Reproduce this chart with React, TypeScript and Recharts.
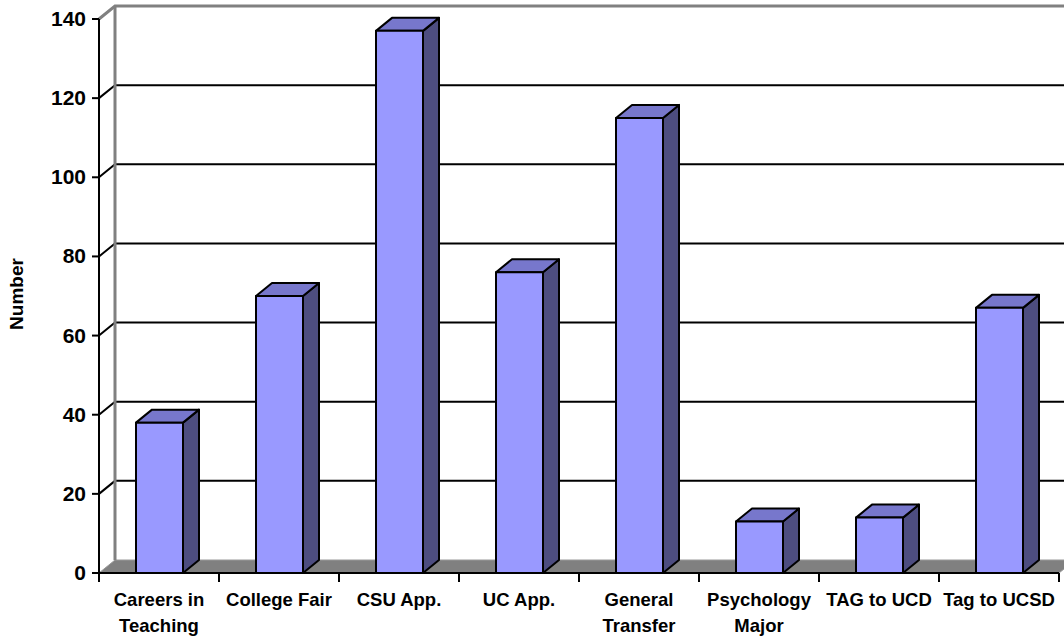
import React from 'react';
import { BarChart, Bar, XAxis, YAxis, CartesianGrid } from 'recharts';

document.body.style.margin = '0';

const categories = [
  'Careers in Teaching',
  'College Fair',
  'CSU App.',
  'UC App.',
  'General Transfer',
  'Psychology Major',
  'TAG to UCD',
  'Tag to UCSD',
];
const counts = [38, 70, 137, 76, 115, 13, 14, 67];
const yTicks = [0, 20, 40, 60, 80, 100, 120, 140];

// labels that break onto two lines under the axis
const tickLines: Record<string, string[]> = {
  'Careers in Teaching': ['Careers in', 'Teaching'],
  'General Transfer': ['General', 'Transfer'],
  'Psychology Major': ['Psychology', 'Major'],
};

const data = categories.map((name, i) => ({ name, value: counts[i] }));

const W = 1064;
const H = 637;
const M = { top: 19, right: 5, bottom: 14, left: 39 };
const Y_AXIS_W = 60;
const X_AXIS_H = 50;
const PLOT_LEFT = M.left + Y_AXIS_W;
const PLOT_BOTTOM = H - M.bottom - X_AXIS_H;
const PLOT_W = W - PLOT_LEFT - M.right;
const HALF_BAND = PLOT_W / categories.length / 2;

// depth of the 3d effect
const DX = 16;
const DY = 13;

const FONT = 'Liberation Sans, Arial, sans-serif';

const Bar3D = (props: any) => {
  const { x, y, width, height } = props;
  if (height == null || width == null) return null;
  const top = `${x},${y} ${x + DX},${y - DY} ${x + width + DX},${y - DY} ${x + width},${y}`;
  const side = `${x + width},${y} ${x + width + DX},${y - DY} ${x + width + DX},${y + height - DY} ${x + width},${y + height}`;
  return (
    <g stroke="#000" strokeWidth={2} strokeLinejoin="round">
      <polygon points={side} fill="#4D4D80" />
      <polygon points={top} fill="#7777CC" />
      <rect x={x} y={y} width={width} height={height} fill="#9999FF" />
    </g>
  );
};

const WallLine = (props: any) => {
  const { x1, y1, x2 } = props;
  if (Math.abs(y1 - PLOT_BOTTOM) < 1) {
    // floor
    return (
      <polygon
        points={`${x1},${y1} ${x1 + DX},${y1 - DY} ${x2 + DX},${y1 - DY} ${x2},${y1}`}
        fill="#808080"
        stroke="#999"
        strokeWidth={1}
      />
    );
  }
  if (Math.abs(y1 - M.top) < 1) {
    // top edge of the walls plus the back corner
    return (
      <g stroke="#808080" strokeWidth={3} fill="none">
        <polyline points={`${x1},${y1} ${x1 + DX},${y1 - DY} ${x2 + DX},${y1 - DY}`} />
        <line x1={x1 + DX} y1={y1 - DY} x2={x1 + DX} y2={PLOT_BOTTOM - DY} />
      </g>
    );
  }
  return (
    <polyline
      points={`${x1},${y1} ${x1 + DX},${y1 - DY} ${x2 + DX},${y1 - DY}`}
      stroke="#000"
      strokeWidth={2}
      fill="none"
    />
  );
};

const XTick = (props: any) => {
  const { x, y, payload, index } = props;
  const lines = tickLines[payload.value] ?? [payload.value];
  return (
    <g>
      <line x1={x - HALF_BAND} y1={y} x2={x - HALF_BAND} y2={y + 9} stroke="#000" strokeWidth={2} />
      {index === categories.length - 1 && (
        <line x1={x + HALF_BAND} y1={y} x2={x + HALF_BAND} y2={y + 9} stroke="#000" strokeWidth={2} />
      )}
      <text
        x={x}
        y={y}
        textAnchor="middle"
        fontFamily={FONT}
        fontWeight="bold"
        fontSize={18.5}
        fill="#000"
      >
        {lines.map((l: string, i: number) => (
          <tspan key={i} x={x} dy={i === 0 ? 33 : 26}>
            {l}
          </tspan>
        ))}
      </text>
    </g>
  );
};

const YTick = (props: any) => {
  const { x, y, payload } = props;
  return (
    <text
      x={x}
      y={y}
      dy={7}
      textAnchor="end"
      fontFamily={FONT}
      fontWeight="bold"
      fontSize={21}
      fill="#000"
    >
      {payload.value}
    </text>
  );
};

const YLabel = () => (
  <text
    x={23}
    y={294}
    transform="rotate(-90 23 294)"
    textAnchor="middle"
    fontFamily={FONT}
    fontWeight="bold"
    fontSize={19}
    fill="#000"
  >
    Number
  </text>
);

export default function App() {
  return (
    <BarChart width={W} height={H} data={data} margin={M} barSize={47}>
      <CartesianGrid vertical={false} horizontal={WallLine} />
      <XAxis
        dataKey="name"
        height={X_AXIS_H}
        interval={0}
        axisLine={{ stroke: '#000', strokeWidth: 2 }}
        tickLine={false}
        tickSize={0}
        tickMargin={0}
        tick={<XTick />}
      />
      <YAxis
        width={Y_AXIS_W}
        domain={[0, 140]}
        ticks={yTicks}
        interval={0}
        axisLine={{ stroke: '#000', strokeWidth: 2 }}
        tickLine={{ stroke: '#000', strokeWidth: 2 }}
        tickSize={7}
        tickMargin={6}
        tick={<YTick />}
        label={<YLabel />}
      />
      <Bar dataKey="value" shape={<Bar3D />} isAnimationActive={false} />
    </BarChart>
  );
}
